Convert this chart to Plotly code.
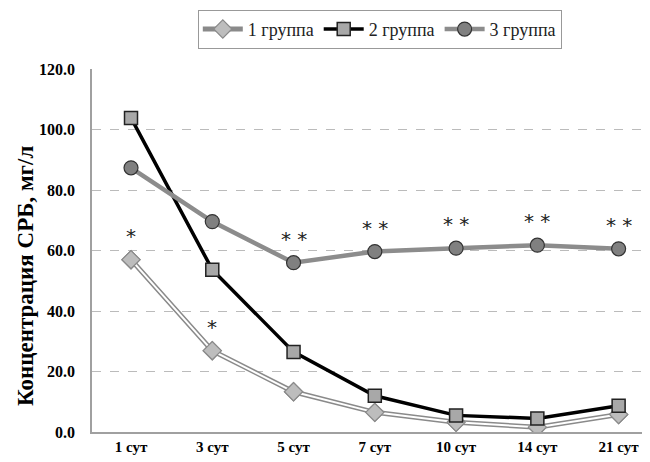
import plotly.graph_objects as go

categories = ["1 сут", "3 сут", "5 сут", "7 сут", "10 сут", "14 сут", "21 сут"]
group1 = [57.0, 26.9, 13.3, 6.5, 3.2, 1.6, 5.8]
group2 = [103.9, 53.7, 26.5, 12.0, 5.5, 4.5, 8.7]
group3 = [87.4, 69.6, 56.0, 59.7, 60.8, 61.8, 60.6]
names = ["1 группа", "2 группа", "3 группа"]
marks1 = ["*", "*", "", "", "", "", ""]
marks3 = ["", "", "* *", "* *", "* *", "* *", "* *"]
y_title = "Концентрация СРБ, мг/л"

x = list(range(len(categories)))
serif = "Liberation Serif, 'Times New Roman', 'DejaVu Serif', serif"

d_marker = dict(symbol="diamond", size=14, color="#bdbdbd", line=dict(color="#8a8a8a", width=1.2))
fig = go.Figure()
# group 1: double line effect (outer gray, inner white, then markers)
fig.add_trace(go.Scatter(x=x, y=group1, mode="lines+markers", name=names[0], legendgroup="g1",
                         line=dict(color="#8a8a8a", width=5), marker=d_marker))
fig.add_trace(go.Scatter(x=x, y=group1, mode="lines", line=dict(color="#ffffff", width=2),
                         showlegend=False, legendgroup="g1", hoverinfo="skip"))
fig.add_trace(go.Scatter(x=x, y=group1, mode="markers", marker=d_marker,
                         showlegend=False, legendgroup="g1", hoverinfo="skip"))
fig.add_trace(go.Scatter(x=x, y=group2, mode="lines+markers", name=names[1],
                         line=dict(color="#000000", width=3.5),
                         marker=dict(symbol="square", size=13, color="#a8a8a8",
                                     line=dict(color="#222222", width=1.5))))
fig.add_trace(go.Scatter(x=x, y=group3, mode="lines+markers", name=names[2],
                         line=dict(color="#8c8c8c", width=4.5),
                         marker=dict(symbol="circle", size=14, color="#808080",
                                     line=dict(color="#333333", width=1.2))))

star_font = dict(family="DejaVu Sans", size=20, color="#222222")
ann = []
for i, m in enumerate(marks1):
    if m:
        ann.append(dict(x=i, y=group1[i], text=m, showarrow=False, yshift=24, font=star_font))
for i, m in enumerate(marks3):
    if m:
        ann.append(dict(x=i, y=group3[i], text=m, showarrow=False, yshift=24, font=star_font))
ann.append(dict(xref="paper", yref="paper", x=0, y=0.43, xshift=-67, text=y_title,
                textangle=-90, showarrow=False, xanchor="center", yanchor="middle",
                font=dict(family=serif, size=23, color="#000000", weight="bold")))

fig.update_layout(
    width=650, height=462,
    margin=dict(l=84, r=15, t=53, b=38),
    paper_bgcolor="white", plot_bgcolor="white",
    annotations=ann,
    legend=dict(orientation="h", xref="container", x=0.572, xanchor="center",
                yref="container", y=0.996, yanchor="top",
                bordercolor="#999999", borderwidth=1,
                font=dict(family=serif, size=18, color="#222222"),
                itemwidth=40, tracegroupgap=0),
    font=dict(family=serif),
)
fig.update_xaxes(range=[-0.48, 6.3], tickmode="array", tickvals=x, ticktext=categories,
                 showgrid=False, zeroline=False, showline=True, linecolor="#a0a0a0", linewidth=1.5,
                 ticks="", tickfont=dict(family=serif, size=15, color="#000000", weight="bold"))
fig.update_yaxes(range=[0, 120], dtick=20, tickformat=".1f", showgrid=True,
                 gridcolor="#bbbbbb", griddash="dash", gridwidth=1, zeroline=False,
                 showline=True, linecolor="#a0a0a0", linewidth=1.5, ticks="",
                 ticklabelstandoff=12,
                 tickfont=dict(family=serif, size=16, color="#000000", weight="bold"))

fig.write_html("out.html")
